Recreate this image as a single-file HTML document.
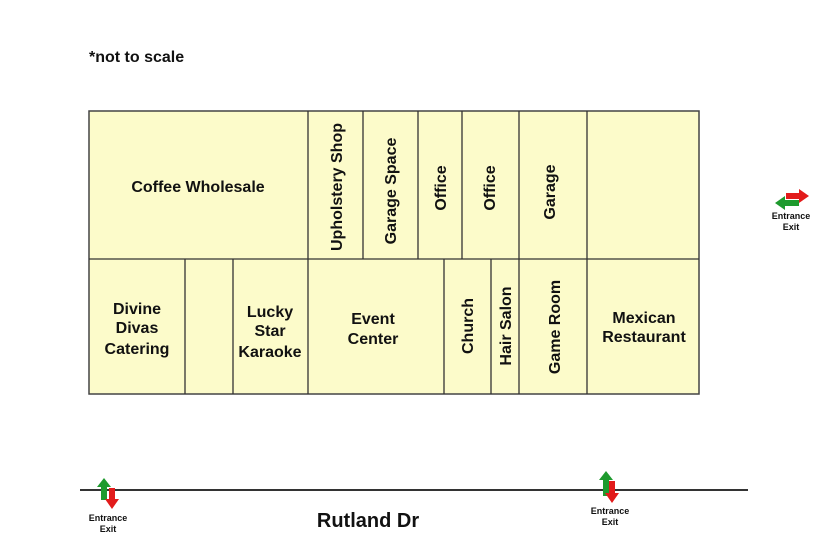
<!DOCTYPE html>
<html><head><meta charset="utf-8"><style>
html,body{margin:0;padding:0;background:#fff;width:840px;height:560px;overflow:hidden}
svg{display:block}
text{font-family:"Liberation Sans",Arial,sans-serif;font-weight:bold;fill:#111}
</style></head><body>
<svg width="840" height="560" viewBox="0 0 840 560">
<text x="89" y="62" font-size="16">*not to scale</text>
<rect x="89" y="111" width="610" height="283" fill="#fcfbca" stroke="#444" stroke-width="1.5"/>
<g stroke="#333" stroke-width="1.3">
<line x1="89" y1="259" x2="699" y2="259"/>
<line x1="308" y1="111" x2="308" y2="259"/>
<line x1="363" y1="111" x2="363" y2="259"/>
<line x1="418" y1="111" x2="418" y2="259"/>
<line x1="462" y1="111" x2="462" y2="259"/>
<line x1="519" y1="111" x2="519" y2="259"/>
<line x1="587" y1="111" x2="587" y2="259"/>
<line x1="185" y1="259" x2="185" y2="394"/>
<line x1="233" y1="259" x2="233" y2="394"/>
<line x1="308" y1="259" x2="308" y2="394"/>
<line x1="444" y1="259" x2="444" y2="394"/>
<line x1="491" y1="259" x2="491" y2="394"/>
<line x1="519" y1="259" x2="519" y2="394"/>
<line x1="587" y1="259" x2="587" y2="394"/>
</g>
<g font-size="16" text-anchor="middle">
<text x="198" y="192">Coffee Wholesale</text>
<text x="137" y="314">Divine</text>
<text x="137" y="333">Divas</text>
<text x="137" y="354">Catering</text>
<text x="270" y="317">Lucky</text>
<text x="270" y="336">Star</text>
<text x="270" y="357">Karaoke</text>
<text x="373" y="324">Event</text>
<text x="373" y="344">Center</text>
<text x="644" y="323">Mexican</text>
<text x="644" y="342">Restaurant</text>
<text transform="translate(342,187) rotate(-90)">Upholstery Shop</text>
<text transform="translate(396,191) rotate(-90)">Garage Space</text>
<text transform="translate(446,188) rotate(-90)">Office</text>
<text transform="translate(495,188) rotate(-90)">Office</text>
<text transform="translate(555,192) rotate(-90)">Garage</text>
<text transform="translate(473,326) rotate(-90)">Church</text>
<text transform="translate(511,326) rotate(-90)">Hair Salon</text>
<text transform="translate(560,327) rotate(-90)">Game Room</text>
</g>
<line x1="80" y1="490" x2="748" y2="490" stroke="#333" stroke-width="2"/>
<text x="368" y="527" font-size="20" text-anchor="middle">Rutland Dr</text>
<polygon points="104,478 111,487 107,487 107,500 101,500 101,487 97,487" fill="#1e9a2e"/>
<polygon points="109,488 115,488 115,499 119,499 112,509 105,499 109,499" fill="#e21b1b"/>
<text x="108" y="521" font-size="9" text-anchor="middle">Entrance</text>
<text x="108" y="532" font-size="9" text-anchor="middle">Exit</text>
<polygon points="606,471 613,480 609,480 609,496 603,496 603,480 599,480" fill="#1e9a2e"/>
<polygon points="609,481 615,481 615,493 619,493 612,503 605,493 609,493" fill="#e21b1b"/>
<text x="610" y="514" font-size="9" text-anchor="middle">Entrance</text>
<text x="610" y="525" font-size="9" text-anchor="middle">Exit</text>
<polygon points="786,193 799,193 799,189 809,196 799,203 799,199 786,199" fill="#e21b1b"/>
<polygon points="799,200 785,200 785,196 775,203 785,210 785,206 799,206" fill="#1e9a2e"/>
<text x="791" y="219" font-size="9" text-anchor="middle">Entrance</text>
<text x="791" y="230" font-size="9" text-anchor="middle">Exit</text>
</svg>
</body></html>
